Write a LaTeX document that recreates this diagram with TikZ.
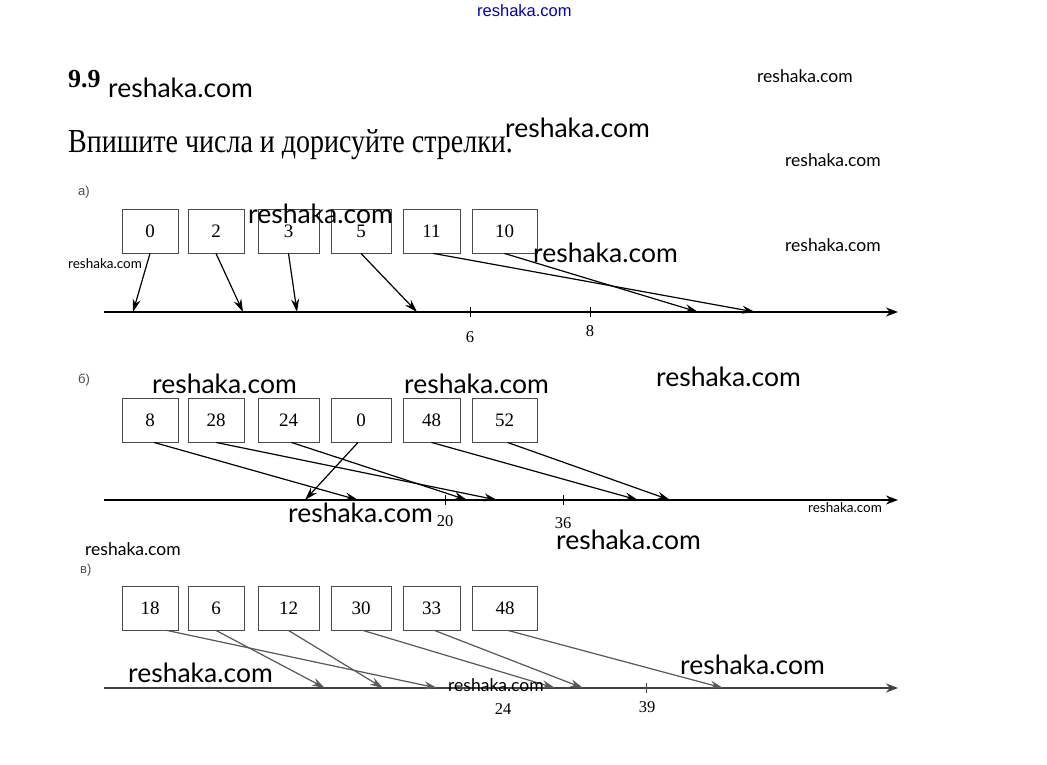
\documentclass[tikz,border=0pt]{standalone}
\usepackage{fontspec}
\setmainfont{Liberation Serif}
\newfontfamily\wmfont{Lato}
\newfontfamily\arialfont{Liberation Sans}
\usetikzlibrary{arrows.meta}
\begin{document}
\begin{tikzpicture}[x=1pt,y=-1pt,
  numbox/.style={draw=black!70, line width=0.9pt, minimum width=#1, minimum height=44pt, inner sep=0pt, text height=13pt, text depth=0pt, font=\fontsize{19}{19}\selectfont},
  axisline/.style={line width=1.5pt, -{Stealth[length=12pt,width=9pt]}},
  tickmark/.style={line width=1pt},
  pointer/.style={line width=1.2pt, -{Stealth[length=13pt,width=8pt]}},
  greypointer/.style={pointer, draw=black!65, fill=black!65},
  axislabel/.style={font=\fontsize{16.5}{16.5}\selectfont, inner sep=0pt},
  partlabel/.style={font=\arialfont\fontsize{13}{13}\selectfont, text=black!70, inner sep=0pt, anchor=base west},
  wmL/.style={font=\wmfont\fontsize{26.5}{26.5}\selectfont, inner sep=0pt, anchor=base west},
  wmM/.style={font=\wmfont\fontsize{17.5}{17.5}\selectfont, inner sep=0pt, anchor=base west},
  wmS/.style={font=\wmfont\fontsize{13.5}{13.5}\selectfont, inner sep=0pt, anchor=base west},
]
\useasboundingbox[fill=white] (0,0) rectangle (1047,765);

% header
\node[font=\arialfont\fontsize{16.5}{16.5}\selectfont, text=blue!75!black, inner sep=0pt, anchor=base west] (wmtop) at (477,17) {reshaka.com};
\node[font=\bfseries\fontsize{26}{26}\selectfont, inner sep=0pt, anchor=base west] (title) at (68,88) {9.9};
\node[inner sep=0pt, anchor=base west] (task) at (68,153) {\scalebox{1}[1.2]{\fontsize{28}{28}\selectfont Впишите числа и дорисуйте стрелки.}};

% ---------- part a ----------
\node[partlabel] (la) at (78,195) {а)};
\node[numbox=56pt] (a0) at (150,231) {0};
\node[numbox=56pt] (a1) at (216,231) {2};
\node[numbox=61pt] (a2) at (288.5,231) {3};
\node[numbox=60pt] (a3) at (361,231) {5};
\node[numbox=57pt] (a4) at (431.5,231) {11};
\node[numbox=65pt] (a5) at (504.5,231) {10};
\coordinate (axAs) at (104,312);
\coordinate (axAe) at (898,312);
\draw[axisline] (axAs) -- (axAe);
\coordinate (tA6) at (470,312);
\coordinate (tA8) at (590,312);
\draw[tickmark] ([yshift=-5pt]tA6) -- ([yshift=5pt]tA6);
\draw[tickmark] ([yshift=-5pt]tA8) -- ([yshift=5pt]tA8);
\node[axislabel] (lA6) at (470,337) {6};
\node[axislabel] (lA8) at (590,331) {8};
\coordinate (pa0) at (133,312);
\coordinate (pa1) at (243,312);
\coordinate (pa2) at (297,312);
\coordinate (pa3) at (417,312);
\coordinate (pa4) at (755,312);
\coordinate (pa5) at (698,312);
\draw[pointer] (a0.south) -- (pa0);
\draw[pointer] (a1.south) -- (pa1);
\draw[pointer] (a2.south) -- (pa2);
\draw[pointer] (a3.south) -- (pa3);
\draw[pointer] ([xshift=2pt]a4.south) -- (pa4);
\draw[pointer] (a5.south) -- (pa5);

% ---------- part b ----------
\node[partlabel] (lb) at (78,383) {б)};
\node[numbox=56pt] (b0) at (150,420) {8};
\node[numbox=56pt] (b1) at (216,420) {28};
\node[numbox=61pt] (b2) at (288.5,420) {24};
\node[numbox=60pt] (b3) at (361,420) {0};
\node[numbox=57pt] (b4) at (431.5,420) {48};
\node[numbox=65pt] (b5) at (504.5,420) {52};
\coordinate (axBs) at (104,500);
\coordinate (axBe) at (898,500);
\draw[axisline] (axBs) -- (axBe);
\coordinate (tB20) at (445,500);
\coordinate (tB36) at (563,500);
\draw[tickmark] ([yshift=-5pt]tB20) -- ([yshift=5pt]tB20);
\draw[tickmark] ([yshift=-5pt]tB36) -- ([yshift=5pt]tB36);
\node[axislabel] (lB20) at (445,521) {20};
\node[axislabel] (lB36) at (563,523) {36};
\coordinate (pb0) at (358,500);
\coordinate (pb1) at (497,500);
\coordinate (pb2) at (467,500);
\coordinate (pb3) at (305,500);
\coordinate (pb4) at (638,500);
\coordinate (pb5) at (670,500);
\draw[pointer] ([xshift=4pt]b0.south) -- (pb0);
\draw[pointer] (b1.south) -- (pb1);
\draw[pointer] ([xshift=3pt]b2.south) -- (pb2);
\draw[pointer] ([xshift=-3pt]b3.south) -- (pb3);
\draw[pointer] (b4.south) -- (pb4);
\draw[pointer] ([xshift=3pt]b5.south) -- (pb5);

% ---------- part c ----------
\node[partlabel] (lc) at (80,573) {в)};
\node[numbox=56pt] (c0) at (150,608) {18};
\node[numbox=56pt] (c1) at (216,608) {6};
\node[numbox=61pt] (c2) at (288.5,608) {12};
\node[numbox=60pt] (c3) at (361,608) {30};
\node[numbox=57pt] (c4) at (431.5,608) {33};
\node[numbox=65pt] (c5) at (505,608) {48};
\coordinate (axCs) at (104,688);
\coordinate (axCe) at (898,688);
\draw[axisline, draw=black!75, line width=1.2pt] (axCs) -- (axCe);
\coordinate (tC39) at (646,688);
\draw[tickmark, draw=black!70] ([yshift=-5pt]tC39) -- ([yshift=5pt]tC39);
\node[axislabel] (lC24) at (503,709) {24};
\node[axislabel] (lC39) at (647,707) {39};
\coordinate (pc0) at (437,688);
\coordinate (pc1) at (325,688);
\coordinate (pc2) at (383,688);
\coordinate (pc3) at (555,688);
\coordinate (pc4) at (583,688);
\coordinate (pc5) at (723,688);
\draw[greypointer] ([xshift=17pt]c0.south) -- (pc0);
\draw[greypointer] (c1.south) -- (pc1);
\draw[greypointer] (c2.south) -- (pc2);
\draw[greypointer] ([xshift=2pt]c3.south) -- (pc3);
\draw[greypointer] ([xshift=3pt]c4.south) -- (pc4);
\draw[greypointer] ([xshift=3pt]c5.south) -- (pc5);

% ---------- watermarks ----------
\node[wmL] (w1) at (108,98) {reshaka.com};
\node[wmM] (w2) at (757,83) {reshaka.com};
\node[wmL] (w3) at (505,138) {reshaka.com};
\node[wmM] (w4) at (785,167) {reshaka.com};
\node[wmL] (w5) at (248,223) {reshaka.com};
\node[wmS] (w6) at (68,268) {reshaka.com};
\node[wmL] (w7) at (533,262) {reshaka.com};
\node[wmM] (w8) at (785,251) {reshaka.com};
\node[wmL] (w9) at (152,393) {reshaka.com};
\node[wmL] (w10) at (404,393) {reshaka.com};
\node[wmL] (w11) at (656,386) {reshaka.com};
\node[wmL] (w12) at (288,522) {reshaka.com};
\node[wmS] (w13) at (808,512) {reshaka.com};
\node[wmL] (w14) at (556,549) {reshaka.com};
\node[wmM] (w15) at (85,555) {reshaka.com};
\node[wmL] (w16) at (128,682) {reshaka.com};
\node[wmM] (w17) at (448,691) {reshaka.com};
\node[wmL] (w18) at (680,674) {reshaka.com};
\end{tikzpicture}
\end{document}
